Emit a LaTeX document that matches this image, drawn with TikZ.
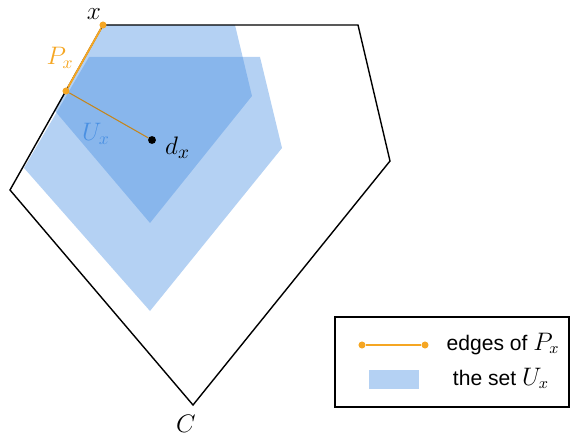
\documentclass[tikz,border=0pt]{standalone}
\usepackage{fontspec}
\setsansfont{Liberation Sans}
\definecolor{ublue}{HTML}{4A90E2}
\definecolor{porange}{HTML}{F5A623}
\tikzset{
  region/.style={fill=ublue, fill opacity=0.41},
  pdot/.style={circle, fill=porange, inner sep=0pt, minimum size=4pt},
  ddot/.style={circle, fill=black, inner sep=0pt, minimum size=4.5pt},
  biglbl/.style={font=\fontsize{15}{17}\selectfont},
  midlbl/.style={font=\fontsize{14.5}{16}\selectfont},
  legtext/.style={font=\sffamily\fontsize{12}{14}\selectfont, anchor=base},
}
\newcommand{\legmath}[1]{{\fontsize{13.5}{15}\selectfont$#1$}}
\begin{document}
\begin{tikzpicture}[x=0.02cm, y=-0.02cm]
\useasboundingbox (0,0) rectangle (570,439);
\fill[region] (103,25) -- (235,25) -- (252,96) -- (150,223) -- (55,111) -- cycle;
\fill[region] (89,57) -- (260,57) -- (282,148) -- (150,311) -- (24,168) -- cycle;
\draw[line width=0.8pt, line join=miter] (103,25) -- (358,25) -- (390,161) -- (193,405) -- (10,190) -- cycle;
\node[pdot] (x) at (103,25) {};
\node[pdot] (p) at (66,91) {};
\node[ddot] (d) at (152,140) {};
\draw[porange, line width=1.1pt] (x) -- (p);
\draw[porange!80!black, line width=0.6pt] (p) -- (d);
\node[biglbl] (xl) at (94,14) {$x$};
\node[midlbl, text=porange] (pl) at (60,58) {$P_x$};
\node[midlbl, text=ublue] (ul) at (96,134) {$U_x$};
\node[biglbl, anchor=west] (dl) at (159,148) {$d_x$};
\node[biglbl] (cl) at (186,424) {$C$};
\draw[line width=0.8pt] (335,317) rectangle (569,407);
\node[pdot] (la) at (362,345) {};
\node[pdot] (lb) at (425,345) {};
\draw[porange, line width=0.6pt] (la) -- (lb);
\node[legtext] (le) at (503,350) {edges of \legmath{P_x}};
\fill[region] (369,370) rectangle (419,389);
\node[legtext] (ls) at (501,385) {the set \legmath{U_x}};
\end{tikzpicture}
\end{document}
